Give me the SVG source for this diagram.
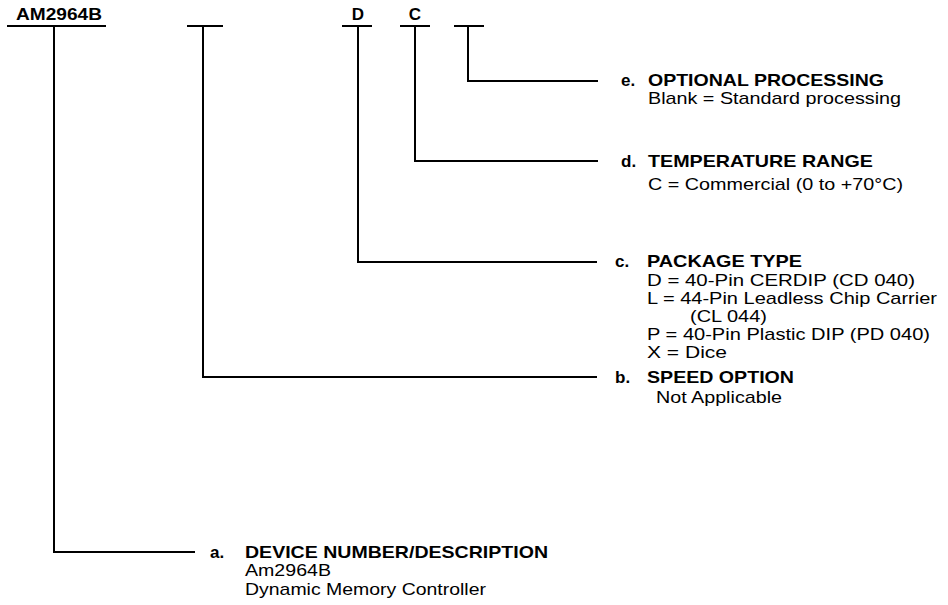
<svg xmlns="http://www.w3.org/2000/svg" width="948" height="605" viewBox="0 0 948 605">
<style>
text{font-family:"Liberation Sans",Arial,Helvetica,sans-serif;font-size:17px;fill:#000}
.b{font-weight:bold}
.ln{fill:none;stroke:#000;stroke-width:2}
</style>
<rect width="948" height="605" fill="#fff"/>
<g id="code-device">
<text class="b" x="16" y="20" textLength="86" lengthAdjust="spacingAndGlyphs">AM2964B</text>
<line class="ln" x1="7" y1="26" x2="106" y2="26"/>
</g>
<g id="code-speed">
<line class="ln" x1="187" y1="26" x2="223" y2="26"/>
</g>
<g id="code-package">
<text class="b" x="358" y="20" text-anchor="middle">D</text>
<line class="ln" x1="342" y1="26" x2="372" y2="26"/>
</g>
<g id="code-temp">
<text class="b" x="415" y="20" text-anchor="middle">C</text>
<line class="ln" x1="400" y1="26" x2="430" y2="26"/>
</g>
<g id="code-processing">
<line class="ln" x1="454" y1="26" x2="484" y2="26"/>
</g>
<g id="connectors">
<path class="ln" d="M468,26 V81 H598"/>
<path class="ln" d="M415,26 V161 H598"/>
<path class="ln" d="M358,26 V262 H597"/>
<path class="ln" d="M203,26 V377 H597"/>
<path class="ln" d="M54,26 V552 H195"/>
</g>
<g id="desc-e">
<text class="b" x="621" y="86">e.</text>
<text class="b" x="648" y="86" textLength="236" lengthAdjust="spacingAndGlyphs">OPTIONAL PROCESSING</text>
<text x="648" y="104" textLength="253" lengthAdjust="spacingAndGlyphs">Blank = Standard processing</text>
</g>
<g id="desc-d">
<text class="b" x="621" y="167">d.</text>
<text class="b" x="648" y="167" textLength="225" lengthAdjust="spacingAndGlyphs">TEMPERATURE RANGE</text>
<text x="648" y="190" textLength="255" lengthAdjust="spacingAndGlyphs">C = Commercial (0 to +70°C)</text>
</g>
<g id="desc-c">
<text class="b" x="615" y="267">c.</text>
<text class="b" x="647" y="267" textLength="155" lengthAdjust="spacingAndGlyphs">PACKAGE TYPE</text>
<text x="647" y="286" textLength="268" lengthAdjust="spacingAndGlyphs">D = 40-Pin CERDIP (CD 040)</text>
<text x="647" y="304" textLength="290" lengthAdjust="spacingAndGlyphs">L = 44-Pin Leadless Chip Carrier</text>
<text x="690" y="322" textLength="77" lengthAdjust="spacingAndGlyphs">(CL 044)</text>
<text x="647" y="340" textLength="283" lengthAdjust="spacingAndGlyphs">P = 40-Pin Plastic DIP (PD 040)</text>
<text x="647" y="358" textLength="80" lengthAdjust="spacingAndGlyphs">X = Dice</text>
</g>
<g id="desc-b">
<text class="b" x="615" y="383">b.</text>
<text class="b" x="647" y="383" textLength="147" lengthAdjust="spacingAndGlyphs">SPEED OPTION</text>
<text x="656" y="403" textLength="126" lengthAdjust="spacingAndGlyphs">Not Applicable</text>
</g>
<g id="desc-a">
<text class="b" x="210" y="558">a.</text>
<text class="b" x="245" y="558" textLength="303" lengthAdjust="spacingAndGlyphs">DEVICE NUMBER/DESCRIPTION</text>
<text x="245" y="576" textLength="86" lengthAdjust="spacingAndGlyphs">Am2964B</text>
<text x="245" y="595" textLength="241" lengthAdjust="spacingAndGlyphs">Dynamic Memory Controller</text>
</g>
</svg>
